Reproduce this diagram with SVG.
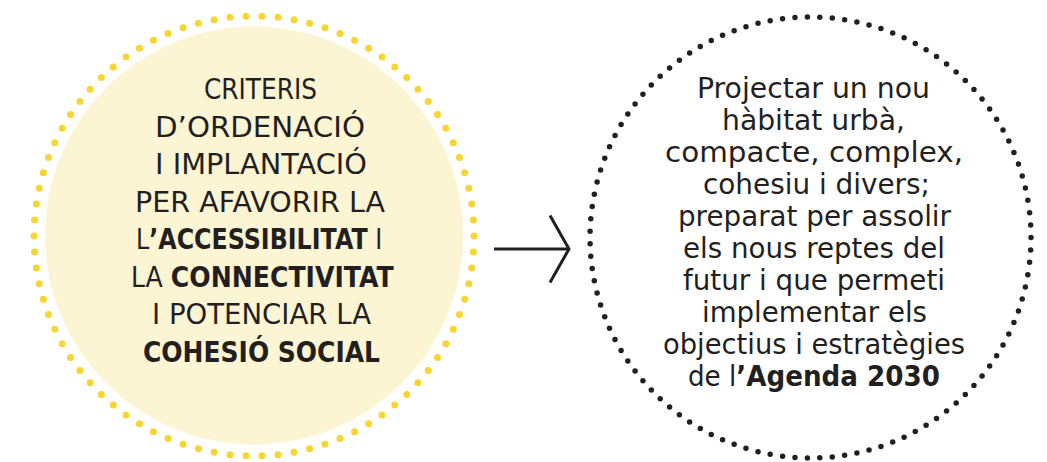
<svg xmlns="http://www.w3.org/2000/svg" width="1047" height="462" viewBox="0 0 1047 462">
<style>
  .t { font-family: "DejaVu Sans", "Liberation Sans", sans-serif; fill: #231F20; }
  .l { font-size: 29px; }
  .r { font-size: 27.5px; }
  .b { font-weight: bold; }
  .conn { stroke: #231F20; stroke-width: 3; fill: none; }
</style>
<defs>
  <marker id="chev" markerUnits="userSpaceOnUse" markerWidth="26" markerHeight="76" viewBox="-3 -38 26 76" refX="19" refY="0" orient="auto" overflow="visible">
    <path d="M0,-33.5 L19,0 L0,33.5" stroke="#231F20" stroke-width="3" fill="none"/>
  </marker>
</defs>
<rect width="1047" height="462" fill="#FFFFFF"/>
<g id="node-left">
  <circle cx="254" cy="235.5" r="209" fill="#FCF5D4"/>
  <circle cx="254" cy="236" r="220" fill="none" stroke="#F9D531" stroke-width="7" stroke-linecap="round" stroke-dasharray="0 1" pathLength="86"/>
  <text class="t l" x="204" y="99" textLength="113" lengthAdjust="spacingAndGlyphs">CRITERIS</text>
  <text class="t l" x="155" y="136.5" textLength="210" lengthAdjust="spacingAndGlyphs">D’ORDENACIÓ</text>
  <text class="t l" x="155" y="174" textLength="212" lengthAdjust="spacingAndGlyphs">I IMPLANTACIÓ</text>
  <text class="t l" x="135" y="211.5" textLength="250" lengthAdjust="spacingAndGlyphs">PER AFAVORIR LA</text>
  <text class="t l" transform="translate(136,249) scale(0.819,1)" x="0" y="0">L<tspan class="b">’ACCESSIBILITAT</tspan> I</text>
  <text class="t l" transform="translate(131,286.5) scale(0.868,1)" x="0" y="0">LA <tspan class="b">CONNECTIVITAT</tspan></text>
  <text class="t l" x="152" y="324" textLength="219" lengthAdjust="spacingAndGlyphs">I POTENCIAR LA</text>
  <text class="t l b" x="143" y="361.5" textLength="237" lengthAdjust="spacingAndGlyphs">COHESIÓ SOCIAL</text>
</g>
<g id="node-right">
  <circle cx="810.5" cy="237.5" r="220.5" fill="none" stroke="#231F20" stroke-width="5.5" stroke-linecap="round" stroke-dasharray="0 1" pathLength="111"/>
  <text class="t r" x="697" y="98" textLength="233" lengthAdjust="spacingAndGlyphs">Projectar un nou</text>
  <text class="t r" x="722" y="130" textLength="183" lengthAdjust="spacingAndGlyphs">hàbitat urbà,</text>
  <text class="t r" x="665" y="162" textLength="298" lengthAdjust="spacingAndGlyphs">compacte, complex,</text>
  <text class="t r" x="703" y="194" textLength="227" lengthAdjust="spacingAndGlyphs">cohesiu i divers;</text>
  <text class="t r" x="678" y="226" textLength="273" lengthAdjust="spacingAndGlyphs">preparat per assolir</text>
  <text class="t r" x="683" y="258" textLength="262" lengthAdjust="spacingAndGlyphs">els nous reptes del</text>
  <text class="t r" x="683" y="290" textLength="262" lengthAdjust="spacingAndGlyphs">futur i que permeti</text>
  <text class="t r" x="702" y="322" textLength="225" lengthAdjust="spacingAndGlyphs">implementar els</text>
  <text class="t r" x="663" y="354" textLength="302" lengthAdjust="spacingAndGlyphs">objectius i estratègies</text>
  <text class="t r" transform="translate(688,386) scale(0.952,1)" x="0" y="0">de l<tspan class="b">’Agenda 2030</tspan></text>
</g>
<g id="connectors">
  <path class="conn" d="M494,249 L569,249" marker-end="url(#chev)"/>
</g>
</svg>
